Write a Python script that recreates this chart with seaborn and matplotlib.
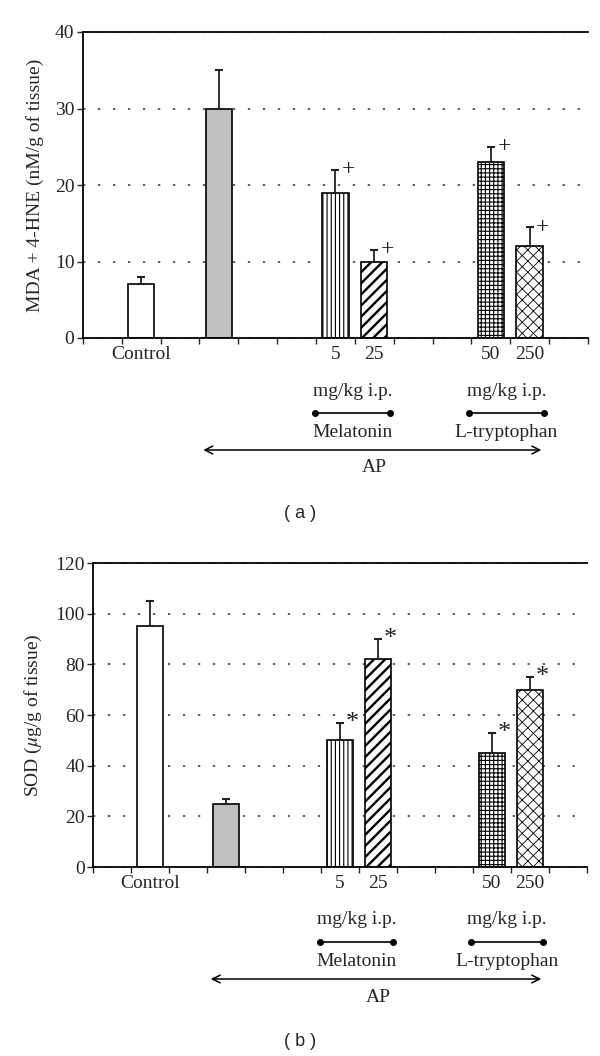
import numpy as np
import pandas as pd
import matplotlib
matplotlib.use("Agg")
import matplotlib.pyplot as plt
import seaborn as sns
from matplotlib.transforms import blended_transform_factory

# groups and the slot order on the x axis (gap slots stay empty)
groups = ["Control", "AP", "Melatonin 5", "Melatonin 25", "L-tryptophan 50", "L-tryptophan 250"]
slot_order = ["g0", "Control", "g1", "AP", "g2", "g3", "Melatonin 5", "Melatonin 25",
              "g4", "g5", "L-tryptophan 50", "L-tryptophan 250", "g6"]
tick_labels = {"Control": "Control", "Melatonin 5": "5", "Melatonin 25": "25",
               "L-tryptophan 50": "50", "L-tryptophan 250": "250"}

# panel (a) MDA + 4-HNE
mda_mean = [7, 30, 19, 10, 23, 12]
mda_err = [1, 5, 3, 1.5, 2, 2.5]
mda_mark = ["", "", "+", "+", "+", "+"]

# panel (b) SOD
sod_mean = [95, 25, 50, 82, 45, 70]
sod_err = [10, 2, 7, 8, 8, 5]
sod_mark = ["", "", "*", "*", "*", "*"]

fills = ["white", "#c0c0c0", "white", "white", "white", "white"]
hatches = ["", "", "||||", "///", "++++", "xxx"]
hatch_lw = [1, 1, 0.8, 1.7, 0.8, 0.6]

sns.set_style("ticks")
plt.rcParams["font.family"] = ["Liberation Serif", "DejaVu Serif"]
plt.rcParams["hatch.linewidth"] = 0.9
plt.rcParams["mathtext.fontset"] = "stix"

H = 1056
fig = plt.figure(figsize=(6, 10.56), dpi=100)
ax_a = fig.add_axes([0.138, 1 - 338 / H, 0.842, 306 / H])
ax_b = fig.add_axes([0.155, 1 - 867 / H, 0.823, 304 / H])


def fy(px):
    return 1 - px / H


def panel(ax, mean, err, marks, ymax, step, ylabel, base, letter, markfs):
    df = pd.DataFrame({"group": groups, "value": mean})
    sns.barplot(data=df, x="group", y="value", order=slot_order, hue="group",
                palette=dict(zip(groups, fills)), saturation=1, width=0.68,
                edgecolor="black", linewidth=1.2, errorbar=None, legend=False, ax=ax)
    for p in ax.patches:
        slot = slot_order[int(round(p.get_x() + p.get_width() / 2))]
        if slot in groups:
            i = groups.index(slot)
            p.set_hatch(hatches[i])
            if hasattr(p, "set_hatch_linewidth"):
                p.set_hatch_linewidth(hatch_lw[i])

    xpos = [slot_order.index(g) for g in groups]
    ax.errorbar(xpos, mean, yerr=[np.zeros(len(mean)), err], fmt="none",
                ecolor="#222222", elinewidth=1.3, capsize=3, capthick=1.5)
    for x, m, e, s in zip(xpos, mean, err, marks):
        if s:
            ax.text(x + 0.34, m + e, s, fontsize=markfs, ha="center", va="center", color="#222222")

    ax.set_xlim(-0.5, 12.5)
    ax.set_ylim(0, ymax)
    ax.set_yticks(np.arange(0, ymax + 1, step))
    ax.tick_params(axis="y", labelsize=14, length=4, width=1, pad=2)
    ax.set_xticks(np.arange(-0.5, 13, 1))
    ax.set_xticklabels([])
    ax.tick_params(axis="x", which="major", length=4, width=1, direction="out")
    names = [g for g in slot_order if g in tick_labels]
    ax.set_xticks([slot_order.index(g) for g in names], minor=True)
    ax.set_xticklabels([tick_labels[g] for g in names], minor=True)
    ax.tick_params(axis="x", which="minor", length=0, labelsize=14, pad=6)
    ax.set_xlabel("")
    ax.set_ylabel(ylabel, fontsize=14, labelpad=8)
    ax.grid(axis="y", color="#555555", linestyle=(0, (1.3, 7)), linewidth=1.3)
    ax.set_axisbelow(True)
    for side in ["left", "bottom", "top"]:
        ax.spines[side].set_linewidth(1.3)
        ax.spines[side].set_color("black")
    ax.spines["right"].set_visible(False)

    tr = blended_transform_factory(ax.transData, fig.transFigure)
    ax.text(6.45, fy(base + 53), "mg/kg i.p.", transform=tr, ha="center", va="center", fontsize=14)
    ax.text(10.4, fy(base + 53), "mg/kg i.p.", transform=tr, ha="center", va="center", fontsize=14)
    for x0, x1 in [(5.48, 7.4), (9.45, 11.36)]:
        ax.plot([x0, x1], [fy(base + 75)] * 2, transform=tr, color="black", lw=1.2,
                marker="o", markersize=4, clip_on=False)
    ax.text(6.45, fy(base + 94), "Melatonin", transform=tr, ha="center", va="center", fontsize=14)
    ax.text(10.4, fy(base + 94), "L-tryptophan", transform=tr, ha="center", va="center", fontsize=14)
    ax.annotate("", xy=(2.6, fy(base + 112)), xytext=(11.3, fy(base + 112)),
                xycoords=tr, textcoords=tr,
                arrowprops=dict(arrowstyle="<->", color="black", lw=1.1,
                                mutation_scale=14, shrinkA=0, shrinkB=0))
    ax.text(7.0, fy(base + 130), "AP", transform=tr, ha="center", va="center", fontsize=14)
    fig.text(0.5, fy(base + 175), letter, ha="center", va="center", fontsize=13,
             family=["Liberation Sans", "DejaVu Sans"])


panel(ax_a, mda_mean, mda_err, mda_mark, 40, 10, "MDA + 4-HNE (nM/g of tissue)", 338, "( a )", 17)
panel(ax_b, sod_mean, sod_err, sod_mark, 120, 20, r"SOD ($\mu$g/g of tissue)", 867, "( b )", 19)

fig.savefig("out.png", dpi=100)
